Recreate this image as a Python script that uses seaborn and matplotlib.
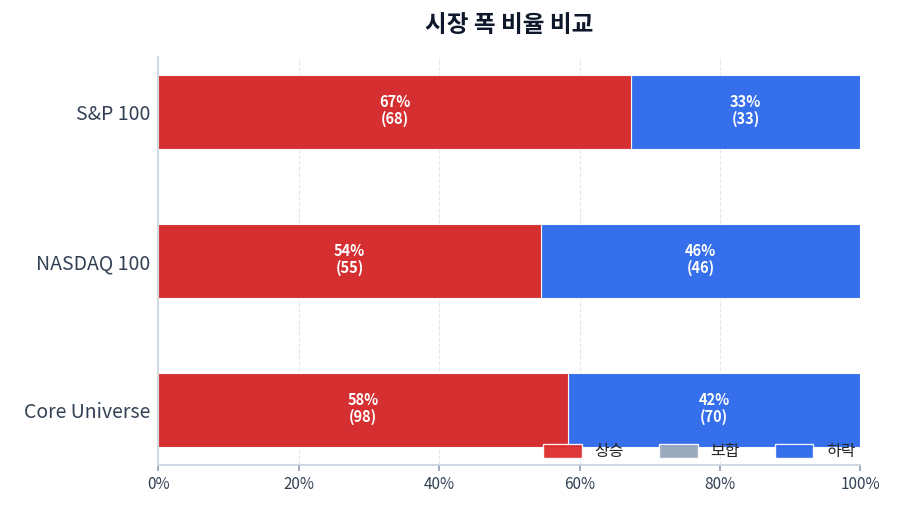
import matplotlib
matplotlib.use("Agg")
import matplotlib.pyplot as plt
import seaborn as sns
import pandas as pd
from matplotlib.patches import Patch

categories = ["S&P 100", "NASDAQ 100", "Core Universe"]
up = [68, 55, 98]
flat = [0, 0, 0]
down = [33, 46, 70]
legend_labels = ["상승", "보합", "하락"]
title = "시장 폭 비율 비교"

sns.set_theme(style="white")
plt.rcParams['font.family'] = ['Noto Sans CJK KR', 'DejaVu Sans']

c_up, c_flat, c_down = "#dc2626", "#94a3b8", "#2563eb"

tot = [u + f + d for u, f, d in zip(up, flat, down)]
p_up = [u / t * 100 for u, t in zip(up, tot)]
p_flat = [f / t * 100 for f, t in zip(flat, tot)]
p_down = [d / t * 100 for d, t in zip(down, tot)]
df = pd.DataFrame({"cat": categories, "all": [100.0] * 3,
                   "upflat": [a + b for a, b in zip(p_up, p_flat)], "up": p_up})

fig = plt.figure(figsize=(9, 5.14), dpi=100)
ax = fig.add_axes([0.176, 0.095, 0.78, 0.794])
kw = dict(orient="h", width=0.5, alpha=0.92, edgecolor="white", linewidth=0.8, saturation=1)
sns.barplot(data=df, y="cat", x="all", color=c_down, ax=ax, **kw)
sns.barplot(data=df, y="cat", x="upflat", color=c_flat, ax=ax, **kw)
sns.barplot(data=df, y="cat", x="up", color=c_up, ax=ax, **kw)

for i in range(3):
    for start, pct, cnt in [(0, p_up[i], up[i]), (p_up[i], p_flat[i], flat[i]),
                            (p_up[i] + p_flat[i], p_down[i], down[i])]:
        if pct > 0:
            ax.text(start + pct / 2, i - 0.01, f"{pct:.0f}%\n({cnt})", ha="center", va="center",
                    color="white", fontsize=10.5, fontweight="bold", linespacing=1.05)

ax.set_xlim(0, 100)
ax.set_ylim(2.37, -0.37)
ax.set_xticks([0, 20, 40, 60, 80, 100])
ax.set_xticklabels([f"{v}%" for v in [0, 20, 40, 60, 80, 100]], fontsize=11, color="#334155")
ax.tick_params(axis="y", labelsize=14, labelcolor="#334155", length=0, pad=6)
ax.tick_params(axis="x", length=4, color="#94a3b8", bottom=True)
ax.set_xlabel("")
ax.set_ylabel("")
ax.grid(axis="x", linestyle="--", color="#e2e8f0", linewidth=0.8)
ax.set_axisbelow(True)
for s in ["top", "right"]:
    ax.spines[s].set_visible(False)
for s in ["left", "bottom"]:
    ax.spines[s].set_color("#cbd5e1")

handles = [Patch(facecolor=c, edgecolor="white", alpha=0.92) for c in [c_up, c_flat, c_down]]
ax.legend(handles, legend_labels, ncol=3, loc="lower right", bbox_to_anchor=(1.0, 0.0),
          frameon=False, fontsize=11.5, handlelength=2.4, handleheight=1.0,
          columnspacing=2.2, borderpad=0.2, borderaxespad=0.1)

fig.suptitle(title, x=0.566, y=0.975, fontsize=17, fontweight="bold", color="#0f172a")
fig.savefig("out.png", dpi=100)
